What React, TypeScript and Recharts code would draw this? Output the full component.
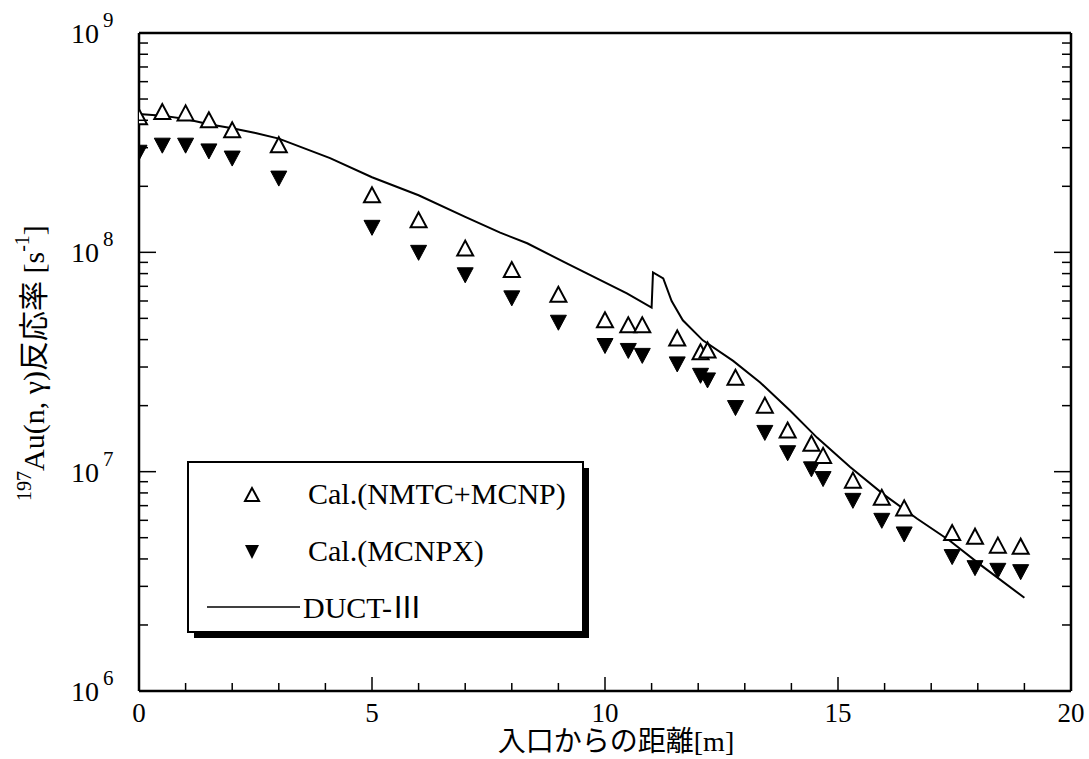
import { ComposedChart, Line, Scatter, XAxis, YAxis } from "recharts";

const SERIF = '"Liberation Serif", "Times New Roman", serif';
const MIXED = '"Liberation Serif", "Noto Sans CJK JP", serif';

// distance from entrance [m] for the two calculated series
const positions = [
  0, 0.5, 1, 1.5, 2, 3, 5, 6, 7, 8, 9, 10, 10.5, 10.8, 11.55, 12.05, 12.2,
  12.8, 13.43, 13.92, 14.43, 14.68, 15.32, 15.94, 16.42, 17.45, 17.94, 18.43,
  18.92,
];
const nmtcMcnp = [
  4.13e8, 4.36e8, 4.3e8, 4.0e8, 3.6e8, 3.08e8, 1.82e8, 1.4e8, 1.04e8, 8.3e7,
  6.4e7, 4.9e7, 4.65e7, 4.65e7, 4.05e7, 3.5e7, 3.57e7, 2.68e7, 2.0e7, 1.54e7,
  1.34e7, 1.18e7, 9.1e6, 7.6e6, 6.8e6, 5.25e6, 5.05e6, 4.6e6, 4.55e6,
];
const mcnpx = [
  2.86e8, 3.08e8, 3.08e8, 2.9e8, 2.69e8, 2.18e8, 1.3e8, 1.0e8, 7.9e7, 6.2e7,
  4.8e7, 3.76e7, 3.57e7, 3.39e7, 3.1e7, 2.75e7, 2.62e7, 1.96e7, 1.51e7,
  1.22e7, 1.03e7, 9.3e6, 7.4e6, 6.0e6, 5.2e6, 4.1e6, 3.65e6, 3.55e6, 3.5e6,
];

// DUCT-III curve
const ductX = [
  0, 0.5, 1, 1.5, 2, 2.5, 3, 4.1, 5, 6, 7, 7.75, 8.33, 9.18, 10.47, 11.0,
  11.03, 11.25, 11.43, 11.67, 12.1, 12.75, 13.33, 13.97, 14.55, 15.26, 15.97,
  16.7, 17.4, 18.1, 19.0,
];
const ductY = [
  4.27e8, 4.2e8, 4.05e8, 3.84e8, 3.68e8, 3.5e8, 3.3e8, 2.69e8, 2.2e8, 1.82e8,
  1.45e8, 1.23e8, 1.1e8, 8.9e7, 6.5e7, 5.6e7, 8.1e7, 7.6e7, 6.0e7, 4.9e7,
  3.97e7, 3.2e7, 2.55e7, 1.9e7, 1.43e7, 1.05e7, 7.9e6, 6.1e6, 4.84e6, 3.7e6,
  2.66e6,
];

const xTicks = Array.from({ length: 21 }, (_, i) => i);
const xLabelTicks = [0, 5, 10, 15, 20];
const yDecades = [1e6, 1e7, 1e8, 1e9];
const yTicks = [
  ...[6, 7, 8].flatMap((e) =>
    [1, 2, 3, 4, 5, 6, 7, 8, 9].map((m) => m * 10 ** e),
  ),
  1e9,
];

const nmtcData = positions.map((x, i) => ({ x, y: nmtcMcnp[i] }));
const mcnpxData = positions.map((x, i) => ({ x, y: mcnpx[i] }));
const ductData = ductX.map((x, i) => ({ x, y: ductY[i] }));

const isDecade = (v: number) => yDecades.some((d) => Math.abs(v - d) < 1);

const OpenTriangle = (props: any) => {
  const { cx, cy } = props;
  if (cx == null || cy == null) return null;
  return (
    <polygon
      points={`${cx},${cy - 8} ${cx - 8},${cy + 7} ${cx + 8},${cy + 7}`}
      fill="#fff"
      stroke="#000"
      strokeWidth={2}
      strokeLinejoin="miter"
    />
  );
};

const FilledTriangle = (props: any) => {
  const { cx, cy } = props;
  if (cx == null || cy == null) return null;
  return (
    <polygon
      points={`${cx - 8},${cy - 7} ${cx + 8},${cy - 7} ${cx},${cy + 8}`}
      fill="#000"
      stroke="#000"
      strokeWidth={1}
    />
  );
};

const BottomTick = (props: any) => {
  const { x, y, payload } = props;
  const v = payload.value;
  const major = v % 5 === 0;
  return (
    <g>
      <line x1={x} x2={x} y1={y} y2={y - (major ? 14 : 8)} stroke="#000" strokeWidth={1.5} />
      {xLabelTicks.includes(v) && (
        <text x={x} y={y + 31} textAnchor="middle" fontSize={27} fontFamily={SERIF} fill="#000">
          {v}
        </text>
      )}
    </g>
  );
};

const TopTick = (props: any) => {
  const { x, y, payload } = props;
  const major = payload.value % 5 === 0;
  return <line x1={x} x2={x} y1={y} y2={y + (major ? 14 : 8)} stroke="#000" strokeWidth={1.5} />;
};

const LeftTick = (props: any) => {
  const { x, y, payload } = props;
  const v = payload.value;
  const major = isDecade(v);
  return (
    <g>
      <line x1={x} x2={x + (major ? 17 : 9)} y1={y} y2={y} stroke="#000" strokeWidth={1.5} />
      {major && (
        <text fontFamily={SERIF} fill="#000">
          <tspan x={x - 40} y={y + 10} fontSize={28} textAnchor="end">
            10
          </tspan>
          <tspan x={x - 36} y={y - 6} fontSize={21}>
            {Math.round(Math.log10(v))}
          </tspan>
        </text>
      )}
    </g>
  );
};

const RightTick = (props: any) => {
  const { x, y, payload } = props;
  const major = isDecade(payload.value);
  return <line x1={x} x2={x - (major ? 17 : 9)} y1={y} y2={y} stroke="#000" strokeWidth={1.5} />;
};

function Overlay() {
  return (
    <svg
      width={1089}
      height={759}
      style={{ position: "absolute", left: 0, top: 0, pointerEvents: "none" }}
    >
      {/* y axis title */}
      <text
        transform="translate(33,363) rotate(-90)"
        textAnchor="middle"
        fontFamily={MIXED}
        fontSize={30}
        fill="#000"
        dominantBaseline="central"
      >
        <tspan fontSize={20} dy={-9}>197</tspan>
        <tspan dy={9}>Au(n, γ)反応率 [s</tspan>
        <tspan fontSize={20} dy={-11}>-1</tspan>
        <tspan dy={11}>]</tspan>
      </text>
      {/* x axis title */}
      <text x={616} y={751} textAnchor="middle" fontFamily={MIXED} fontSize={28} fill="#000">
        入口からの距離[m]
      </text>

      {/* legend */}
      <rect x={194} y={468} width={395} height={170} fill="#000" />
      <rect x={188} y={462} width={395} height={170} fill="#fff" stroke="#000" strokeWidth={2} />
      <polygon points="252,488 245,501 259,501" fill="#fff" stroke="#000" strokeWidth={2} />
      <text x={308} y={504} fontFamily={SERIF} fontSize={30} fill="#000">
        Cal.(NMTC+MCNP)
      </text>
      <polygon points="245,545 259,545 252,559" fill="#000" />
      <text x={308} y={561} fontFamily={SERIF} fontSize={30} fill="#000">
        Cal.(MCNPX)
      </text>
      <line x1={207} x2={300} y1={607} y2={607} stroke="#000" strokeWidth={1.5} />
      <text x={303} y={618} fontFamily={MIXED} fontSize={30} fill="#000">
        DUCT-Ⅲ
      </text>
    </svg>
  );
}

export default function App() {
  return (
    <div
      style={{
        position: "absolute",
        left: 0,
        top: 0,
        width: 1089,
        height: 759,
        background: "#fff",
      }}
    >
      <ComposedChart
        width={1089}
        height={759}
        margin={{ top: 32, right: 17, bottom: 28, left: 39 }}
      >
        <XAxis
          xAxisId="bottom"
          dataKey="x"
          type="number"
          domain={[0, 20]}
          ticks={xTicks}
          interval={0}
          height={40}
          tickLine={false}
          tickSize={0}
          tickMargin={0}
          axisLine={{ stroke: "#000", strokeWidth: 2.5 }}
          tick={BottomTick}
          allowDataOverflow
        />
        <XAxis
          xAxisId="top"
          orientation="top"
          type="number"
          domain={[0, 20]}
          ticks={xTicks}
          interval={0}
          height={1}
          tickLine={false}
          tickSize={0}
          tickMargin={0}
          axisLine={{ stroke: "#000", strokeWidth: 2.5 }}
          tick={TopTick}
          allowDataOverflow
        />
        <YAxis
          yAxisId="left"
          type="number"
          scale="log"
          domain={[1e6, 1e9]}
          ticks={yTicks}
          interval={0}
          width={100}
          tickLine={false}
          tickSize={0}
          tickMargin={0}
          axisLine={{ stroke: "#000", strokeWidth: 2.5 }}
          tick={LeftTick}
          allowDataOverflow
        />
        <YAxis
          yAxisId="right"
          orientation="right"
          type="number"
          scale="log"
          domain={[1e6, 1e9]}
          ticks={yTicks}
          interval={0}
          width={1}
          tickLine={false}
          tickSize={0}
          tickMargin={0}
          axisLine={{ stroke: "#000", strokeWidth: 2.5 }}
          tick={RightTick}
          allowDataOverflow
        />
        <Line
          xAxisId="bottom"
          yAxisId="left"
          data={ductData}
          dataKey="y"
          type="linear"
          stroke="#000"
          strokeWidth={2}
          dot={false}
          activeDot={false}
          isAnimationActive={false}
        />
        <Scatter
          xAxisId="bottom"
          yAxisId="left"
          data={mcnpxData}
          dataKey="y"
          shape={FilledTriangle}
          isAnimationActive={false}
        />
        <Scatter
          xAxisId="bottom"
          yAxisId="left"
          data={nmtcData}
          dataKey="y"
          shape={OpenTriangle}
          isAnimationActive={false}
        />
      </ComposedChart>
      <Overlay />
    </div>
  );
}
